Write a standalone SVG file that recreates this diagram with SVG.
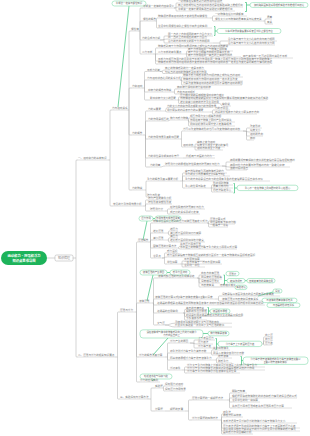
<svg xmlns="http://www.w3.org/2000/svg" width="310" height="436" viewBox="0 0 310 436">
<style>
.nodes text{font-family:"Noto Sans CJK SC","Noto Sans",sans-serif;font-size:2.6px;fill:#777}
.nodes path{stroke:#c6c6c6;stroke-width:.55;fill:none}
.con path{stroke:#ababab;stroke-width:.5;fill:none}
.gl{stroke:#3cc27d;stroke-width:.7;fill:none}
.gb{fill:#fff;stroke:#86dcae;stroke-width:.6}
.bt{font-family:"Noto Sans CJK SC","Noto Sans",sans-serif;font-size:2.4px;fill:#666}
.rt{font-family:"Noto Sans CJK SC","Noto Sans",sans-serif;font-size:3.3px;fill:#fff;font-weight:bold}
</style>
<rect width="310" height="436" fill="#fff"/>
<g class="con">
<path d="M47 258H55"/>
<path d="M73 258H76M76 258V160.8Q76 160 76.8 160H78M76 258V356.2Q76 357 76.8 357H78"/>
<path d="M108 160H110M110 160V110.8Q110 110 110.8 110H112M110 160V205.2Q110 206 110.8 206H113"/>
<path d="M127 110H129M129 110V31.8Q129 31 129.8 31H131M129 110V88.8Q129 88 129.8 88H132M129 110V134.2Q129 135 129.8 135H132M129 110V189.2Q129 190 129.8 190H132"/>
<path d="M138 31H140M140 31V8.8Q140 8 140.8 8H143M140 31V21.8Q140 21 140.8 21H143M140 31V39.2Q140 40 140.8 40H142M140 31V53.2Q140 54 140.8 54H142"/>
<path d="M174 8H176M176 8V3.8Q176 3 176.8 3H178M174 8C176 8 176 7 178 7M176 8V10.2Q176 11 176.8 11H178"/>
<path d="M155 21H156.5M156.5 21V18.8Q156.5 18 157.3 18H158M156.5 21V27.2Q156.5 28 157.3 28H158"/>
<path d="M210 18H212.5M212.5 18V16.8Q212.5 16 213.3 16H215M212.5 18V20.2Q212.5 21 213.3 21H215"/>
<path d="M263 21H265M265 21V19.8Q265 19 265.8 19H267M265 21V23.2Q265 24 265.8 24H267"/>
<path d="M160 40H164M164 40V36.8Q164 36 164.8 36H168M160 40C164 40 164 39 168 39M164 40V42.2Q164 43 164.8 43H168"/>
<path d="M213 43H220M220 43V41.8Q220 41 220.8 41H228M220 43V44.2Q220 45 220.8 45H228"/>
<path d="M153 54H158M155.5 54V48.8Q155.5 48 156.3 48H158M155.5 54V60.2Q155.5 61 156.3 61H158M155.5 54V63.2Q155.5 64 156.3 64H158"/>
<path d="M185 54H188M186.5 54V51.8Q186.5 51 187.3 51H188M186.5 54V56.2Q186.5 57 187.3 57H188"/>
<path d="M240 57C241.5 57 241.5 58 243 58"/>
<path d="M142 88H144.5M144.5 88V72.3Q144.5 71.5 145.3 71.5H147M144.5 88V80.8Q144.5 80 145.3 80H147M144.5 88V91.2Q144.5 92 145.3 92H148M144.5 88V99.2Q144.5 100 145.3 100H150"/>
<path d="M160 71.5C162.5 71.5 162.5 70 165 70M160 71.5H162.5V72.7Q162.5 73.5 163.3 73.5H165"/>
<path d="M180 80H181.5V77.8Q181.5 77 182.3 77H183M180 80C181.5 80 181.5 81 183 81M181.5 80V84.2Q181.5 85 182.3 85H183"/>
<path d="M172 92H174.5V89.8Q174.5 89 175.3 89H177M174.5 92V93.2Q174.5 94 175.3 94H177"/>
<path d="M177 100H180M178.5 100V97.8Q178.5 97 179.3 97H180M178.5 100V102.7Q178.5 103.5 179.3 103.5H180"/>
<path d="M220 103.5C221 103.5 221 106 222 106"/>
<path d="M143 135H145.5M145.5 135V111.8Q145.5 111 146.3 111H148M145.5 135V121.8Q145.5 121 146.3 121H148M145.5 135V138.2Q145.5 139 146.3 139H148M145.5 135V157.2Q145.5 158 146.3 158H148M145.5 135V166.2Q145.5 167 146.3 167H150"/>
<path d="M165 111C166 111 166 107.5 167 107.5M165 111C166 111 166 112 167 112"/>
<path d="M210 112H212.5V110.8Q212.5 110 213.3 110H215M212.5 112V113.2Q212.5 114 213.3 114H215"/>
<path d="M168 121C169 121 169 120 170 120"/>
<path d="M187 120H188.5V118.8Q188.5 118 189.3 118H190M188.5 120V121.2Q188.5 122 189.3 122H190M188.5 120V125.2Q188.5 126 189.3 126H190"/>
<path d="M180 139H181.5V131.8Q181.5 131 182.3 131H183M181.5 139V146.2Q181.5 147 182.3 147H183"/>
<path d="M243 131H246.5V128.8Q246.5 128 247.3 128H250M243 131C246.5 131 246.5 132 250 132M246.5 131V135.2Q246.5 136 247.3 136H250M246.5 131V139.2Q246.5 140 247.3 140H250"/>
<path d="M193 147H197M195 147V144.8Q195 144 195.8 144H197M195 147V149.2Q195 150 195.8 150H197"/>
<path d="M183 158H186"/>
<path d="M160 167C162.5 167 162.5 166 165 166"/>
<path d="M222 166H226V162.8Q226 162 226.8 162H230M222 166C226 166 226 167 230 167M226 166V169.2Q226 170 226.8 170H230"/>
<path d="M145 190H146V181.8Q146 181 146.8 181H147M146 190V196.2Q146 197 146.8 197H147"/>
<path d="M180 181H185M182.5 181V173.8Q182.5 173 183.3 173H185M182.5 181V176.8Q182.5 176 183.3 176H185M182.5 181V187.2Q182.5 188 183.3 188H185"/>
<path d="M210 188H213M211.5 188V185.8Q211.5 185 212.3 185H213M211.5 188V191.2Q211.5 192 212.3 192H213"/>
<path d="M143 206H145.5V200.8Q145.5 200 146.3 200H148M145.5 206V204.8Q145.5 204 146.3 204H148M145.5 206V210.2Q145.5 211 146.3 211H150"/>
<path d="M165 211H167.5V209.8Q167.5 209 168.3 209H170M167.5 211V213.2Q167.5 214 168.3 214H170"/>
<path d="M115 357H117.5V312.8Q117.5 312 118.3 312H120M117.5 357V398.2Q117.5 399 118.3 399H120"/>
<path d="M135 312H136.5V242.8Q136.5 242 137.3 242H138M136.5 312V303.8Q136.5 303 137.3 303H139M136.5 312V356.2Q136.5 357 137.3 357H139M136.5 312V381.2Q136.5 382 137.3 382H140"/>
<path d="M148 242H150.5V223.8Q150.5 223 151.3 223H153M150.5 242V233.8Q150.5 233 151.3 233H153M150.5 242V240.8Q150.5 240 151.3 240H153M150.5 242V247.2Q150.5 248 151.3 248H153M150.5 242V257.2Q150.5 258 151.3 258H153"/>
<path d="M207 223H208.5V221.8Q208.5 221 209.3 221H210M207 223C208.5 223 208.5 224 210 224M208.5 223V226.2Q208.5 227 209.3 227H210"/>
<path d="M167 233H168.5V231.8Q168.5 231 169.3 231H170M168.5 233V234.2Q168.5 235 169.3 235H170"/>
<path d="M167 240H168.5V238.8Q168.5 238 169.3 238H170M168.5 240V241.2Q168.5 242 169.3 242H170"/>
<path d="M178 248C179 248 179 246 180 246M178 248C179 248 179 249 180 249"/>
<path d="M162 258H164.5V253.8Q164.5 253 165.3 253H167M162 258C164.5 258 164.5 257 167 257M164.5 258V263.2Q164.5 264 165.3 264H167"/>
<path d="M180 264H184M182 264V261.8Q182 261 182.8 261H184M182 264V266.2Q182 267 182.8 267H184"/>
<path d="M152 303H153.5V278.8Q153.5 278 154.3 278H158M153.5 303V299.8Q153.5 299 154.3 299H155M153.5 303V304.2Q153.5 305 154.3 305H157M153.5 303V312.2Q153.5 313 154.3 313H157M153.5 303V324.2Q153.5 325 154.3 325H157"/>
<path d="M197 278H199V275.8Q199 275 199.8 275H201M197 278C199 278 199 279 201 279M199 278V282.2Q199 283 199.8 283H201M199 278V286.2Q199 287 199.8 287H201"/>
<path d="M213 287H220"/>
<path d="M215 299H218.5V296.8Q218.5 296 219.3 296H222M218.5 299V300.2Q218.5 301 219.3 301H222"/>
<path d="M183 313H184.5V310.3Q184.5 309.5 185.3 309.5H186M183 313H186M184.5 313V315.7Q184.5 316.5 185.3 316.5H186M184.5 313V319.2Q184.5 320 185.3 320H186"/>
<path d="M165 325C170 325 170 323.2 175 323.2M165 325C170 325 170 327 175 327"/>
<path d="M165 357H167.5V343.8Q167.5 343 168.3 343H170M167.5 357V353.8Q167.5 353 168.3 353H170M167.5 357V359.2Q167.5 360 168.3 360H170M167.5 357V369.2Q167.5 370 168.3 370H170"/>
<path d="M190 343H194V340.8Q194 340 194.8 340H198M190 343C194 343 194 344 198 344M194 343V347.2Q194 348 194.8 348H198"/>
<path d="M262 344H263.5V337.8Q263.5 337 264.3 337H265M263.5 344V341.8Q263.5 341 264.3 341H265M263.5 344V344.2Q263.5 345 264.3 345H265"/>
<path d="M210 353H211.5V350.8Q211.5 350 212.3 350H213M211.5 353V354.2Q211.5 355 212.3 355H213"/>
<path d="M215 360H216.5V358.8Q216.5 358 217.3 358H218M216.5 360V362.2Q216.5 363 217.3 363H218"/>
<path d="M182 370H187M184.5 370V367.8Q184.5 367 185.3 367H187M184.5 370V372.2Q184.5 373 185.3 373H187"/>
<path d="M147 399H151V388.8Q151 388 151.8 388H155M151 399V410.2Q151 411 151.8 411H155"/>
<path d="M162 388H163.5V386.8Q163.5 386 164.3 386H165M163.5 388V390.2Q163.5 391 164.3 391H165"/>
<path d="M165 411H170"/>
<path d="M185 411H188.5V400.8Q188.5 400 189.3 400H192M188.5 411V419.2Q188.5 420 189.3 420H192"/>
<path d="M227 400H229.5V393.8Q229.5 393 230.3 393H232M229.5 400V398.8Q229.5 398 230.3 398H232M229.5 400V401.2Q229.5 402 230.3 402H232M229.5 400V407.2Q229.5 408 230.3 408H232"/>
<path d="M220 420H221.5V414.8Q221.5 414 222.3 414H223M221.5 420V417.8Q221.5 417 222.3 417H223M221.5 420V422.2Q221.5 423 222.3 423H223M221.5 420V427.2Q221.5 428 222.3 428H223M221.5 420V430.2Q221.5 431 222.3 431H223M221.5 420V433.2Q221.5 434 222.3 434H223"/>
</g>
<g id="callouts">
<path class="gl" d="M129 6L118 107"/>
<path class="gl" d="M245 2.5H246.5V11.5H245M246.5 5H250"/>
<path class="gl" d="M214 26.5H215V35.5H214M215 31H217"/>
<path class="gl" d="M233.5 183.5H234.5V193H233.5M234.5 188H237"/>
<path class="gl" d="M153 218.5H155M147 221L143 240"/>
<path class="gl" d="M167 272.5H170M153 275L147 301"/>
<path class="gl" d="M223.5 275H224.5V284H223.5M224.5 280.5H227M245 280.7H247"/>
<path class="gl" d="M258 296L273 292"/>
<path class="gl" d="M207.5 307.5H208.5V314.5H207.5M208.5 311H210"/>
<path class="gl" d="M168 338L153 355M203 333.5H208"/>
<path class="gl" d="M215.5 338.5H216.5V349.5H215.5M216.5 344H218"/>
<path class="gl" d="M240.5 356.5H241.5V365H240.5M241.5 360.5H243"/>
<path class="gl" d="M155 379L152 380.8"/>
<g id="gb1"><rect class="gb" x="112" y="1" width="34" height="5" rx="2.5"/><text class="bt" x="129" y="4.4" text-anchor="middle">牛顿第一定律与惯性知识</text></g>
<g id="gb2"><rect class="gb" x="250" y="2.6" width="58" height="4.8" rx="2.4"/><text class="bt" x="279" y="5.9" text-anchor="middle">伽利略斜面实验采用理想实验方法推理得出结论</text></g>
<g id="gb3"><rect class="gb" x="217" y="28.5" width="64" height="5" rx="2.5"/><text class="bt" x="249" y="31.9" text-anchor="middle">汽车驾驶员和乘客要系好安全带防止惯性伤害</text></g>
<g id="gb4"><rect class="gb" x="237" y="185.2" width="61" height="5.4" rx="2.7"/><text class="bt" x="267.5" y="188.8" text-anchor="middle">重心不一定在物体上例如圆环的重心在圆心</text></g>
<g id="gb5"><rect class="gb" x="139" y="216" width="14" height="5" rx="2.5"/><text class="bt" x="146" y="219.4" text-anchor="middle">压力作用</text></g>
<g id="gb6"><rect class="gb" x="155" y="216" width="26" height="5" rx="2.5"/><text class="bt" x="168" y="219.4" text-anchor="middle">作用效果与哪些因素有</text></g>
<g id="gb7"><rect class="gb" x="140" y="270" width="27" height="5" rx="2.5"/><text class="bt" x="153.5" y="273.4" text-anchor="middle">液体压强的产生原因</text></g>
<g id="gb8"><rect class="gb" x="170" y="270" width="20" height="5" rx="2.5"/><text class="bt" x="180" y="273.4" text-anchor="middle">受重力且流动</text></g>
<g id="gb9"><rect class="gb" x="226" y="271.4" width="13" height="4.4" rx="2.2"/><text class="bt" x="232.5" y="274.5" text-anchor="middle">压强计</text></g>
<g id="gb10"><rect class="gb" x="227" y="278.5" width="18" height="4.4" rx="2.2"/><text class="bt" x="236" y="281.6" text-anchor="middle">转换法观察</text></g>
<g id="gb11"><rect class="gb" x="247" y="278.5" width="28" height="4.4" rx="2.2"/><text class="bt" x="261" y="281.6" text-anchor="middle">控制变量法的具体应用</text></g>
<g id="gb12"><rect class="gb" x="235" y="285.2" width="12" height="4.4" rx="2.2"/><text class="bt" x="241" y="288.3" text-anchor="middle">实验结论</text></g>
<g id="gb13"><rect class="gb" x="262" y="298.2" width="35" height="4.4" rx="2.2"/><text class="bt" x="279.5" y="301.3" text-anchor="middle">与液体的质量和体积无关</text></g>
<g id="gb14"><rect class="gb" x="267" y="303" width="33" height="4.4" rx="2.2"/><text class="bt" x="283.5" y="306.1" text-anchor="middle">与容器的形状无关系</text></g>
<g id="gb15"><rect class="gb" x="273" y="289" width="9" height="4" rx="2"/><text class="bt" x="277.5" y="291.9" text-anchor="middle">深度</text></g>
<g id="gb16"><rect class="gb" x="210" y="309" width="20" height="4.4" rx="2.2"/><text class="bt" x="220" y="312.1" text-anchor="middle">液面相平原理</text></g>
<g id="gb17"><rect class="gb" x="140" y="329.8" width="63" height="8.2" rx="3"/><text class="bt" x="171.5" y="333.2" text-anchor="middle">浸在液体或气体中的物体受到向上托的力叫做浮</text><text class="bt" x="171.5" y="336.4" text-anchor="middle">力方向竖直向上</text></g>
<g id="gb18"><rect class="gb" x="208" y="331.2" width="21" height="4.6" rx="2.3"/><text class="bt" x="218.5" y="334.4" text-anchor="middle">施力物体是液体</text></g>
<g id="gb19"><rect class="gb" x="218" y="341.2" width="44" height="5.4" rx="2.7"/><text class="bt" x="240" y="344.8" text-anchor="middle">浮力等于上下表面的压力差</text></g>
<g id="gb20"><rect class="gb" x="243" y="357" width="65" height="7.4" rx="3"/><text class="bt" x="275.5" y="360.2" text-anchor="middle">浮力等于排开液体所受的重力等于液体密度乘以</text><text class="bt" x="275.5" y="363.3" text-anchor="middle">g乘以排开液体的体积</text></g>
<g id="gb21"><rect class="gb" x="140" y="374" width="32" height="5" rx="2.5"/><text class="bt" x="156" y="377.4" text-anchor="middle">轮船潜水艇气球和飞艇</text></g>
</g>
<g id="root"><rect x="1" y="251" width="46" height="14" rx="7" fill="#1db35a"/><text class="rt" x="24" y="257.3" text-anchor="middle">运动和力·压强和浮力</text><text class="rt" x="24" y="261.9" text-anchor="middle">知识点思维导图</text></g>
<g id="n0"><rect x="55" y="255" width="18" height="6" rx="1.5" fill="#fff" stroke="#a8a8a8" stroke-width=".5"/><text x="64" y="259.1" text-anchor="middle" style="font-family:'Noto Sans CJK SC',sans-serif;font-size:3px;fill:#777">知识梳理</text></g>
<g class="nodes">
<g id="T1"><text x="78" y="159.4">一、运动和力的基本知识</text><path d="M78 160H108"/></g>
<g id="T2"><text x="78" y="356.4">二、压强与浮力的相关知识要点</text><path d="M78 357H115"/></g>
<g id="U1"><text x="112" y="109.4">力与运动关系</text><path d="M112 110H127"/></g>
<g id="U2"><text x="113" y="205.4">常见的力及作用效果分析</text><path d="M113 206H143"/></g>
<g id="C"><text x="131" y="30.4">惯性律</text><path d="M131 31H138"/></g>
<g id="A"><text x="143" y="7.4">牛顿第一定律的内容和意义</text><path d="M143 8H174"/></g>
<g id="A1"><text x="178" y="2.4">一切物体在没有受到力的作用时总保持</text><path d="M178 3H223"/></g>
<g id="A2"><text x="178" y="6.4">静止状态或匀速直线运动状态这是在实验基础上推理得出</text><path d="M178 7H243"/></g>
<g id="A3"><text x="178" y="10.4">牛顿第一定律不能用实验直接验证只能推理得出</text><path d="M178 11H235"/></g>
<g id="B"><text x="143" y="20.4">惯性的概念</text><path d="M143 21H155"/></g>
<g id="B1"><text x="158" y="17.4">物体保持原来运动状态不变的性质叫做惯性</text><path d="M158 18H210"/></g>
<g id="B1a"><text x="215" y="15.4">一切物体在任何时候都有</text><path d="M215 16H247"/></g>
<g id="B1b"><text x="215" y="20.4">惯性大小只与物体的质量有关与速度无关</text><path d="M215 21H263"/></g>
<g id="B1b1"><text x="267" y="18.4">质量</text><path d="M267 19H272"/></g>
<g id="B1b2"><text x="267" y="23.4">有关</text><path d="M267 24H273"/></g>
<g id="B2"><text x="158" y="27.4">生活中利用惯性和防止惯性带来危害的实例</text><path d="M158 28H212"/></g>
<g id="D"><text x="142" y="39.4">力的合成与分解</text><path d="M142 40H160"/></g>
<g id="D1"><text x="168" y="35.4">同一直线上方向相同的两个力合力大小</text><path d="M168 36H213"/></g>
<g id="D2"><text x="168" y="38.4">同一直线上方向相反的两个力合力</text><path d="M168 39H207"/></g>
<g id="D3"><text x="168" y="42.4">合力的方向与较大的那个力方向相同</text><path d="M168 43H213"/></g>
<g id="D3a"><text x="228" y="40.4">合力等于两个力大小之和方向与两力相同</text><path d="M228 41H277"/></g>
<g id="D3b"><text x="228" y="44.4">合力等于两个力大小之差方向与较大力同</text><path d="M228 45H275"/></g>
<g id="E"><text x="142" y="53.4">二力平衡</text><path d="M142 54H153"/></g>
<g id="E1"><text x="158" y="47.4">物体受到两个力作用时如果保持静止或匀速直线运动状态就说</text><path d="M158 48H223"/></g>
<g id="E2"><text x="158" y="53.4">二力平衡的条件要点</text><path d="M158 54H185"/></g>
<g id="E2a"><text x="188" y="50.4">两个力作用在同一个物体上即同体</text><path d="M188 51H233"/></g>
<g id="E2b"><text x="188" y="53.4">两个力大小相等方向相反即等大反向</text><path d="M188 54H232"/></g>
<g id="E2c"><text x="188" y="56.4">两个力作用在同一条直线上简称为共线</text><path d="M188 57H240"/></g>
<g id="E2c1"><text x="243" y="57.4">四个条件缺一不可必须同时满足才平衡</text><path d="M243 58H293"/></g>
<g id="E3"><text x="158" y="60.4">平衡力与相互作用力的区别在于平衡力作用在同一物体上而相互作用力分别作用在两个不同的物体上</text><path d="M158 61H267"/></g>
<g id="E4"><text x="158" y="63.4">物体受平衡力作用时运动状态不变受非平衡力作用时运动状态一定发生改变这是判断受力情况的依据</text><path d="M158 64H270"/></g>
<g id="F"><text x="132" y="87.4">力和运动</text><path d="M132 88H142"/></g>
<g id="G"><text x="147" y="70.9">平衡力判断</text><path d="M147 71.5H160"/></g>
<g id="G1"><text x="165" y="69.4">静止的物体受到的力一定是平衡力</text><path d="M165 70H205"/></g>
<g id="G2"><text x="165" y="72.9">匀速直线运动的物体受到平衡力作用</text><path d="M165 73.5H208"/></g>
<g id="H"><text x="147" y="79.4">力与运动状态之间的关系分析</text><path d="M147 80H180"/></g>
<g id="H1"><text x="183" y="76.4">物体不受力或受平衡力时保持静止或匀速直线运动</text><path d="M183 77H243"/></g>
<g id="H2"><text x="183" y="80.4">物体受非平衡力作用时运动状态一定会发生改变</text><path d="M183 81H243"/></g>
<g id="H3"><text x="183" y="84.4">力是改变物体运动状态的原因而不是维持运动的原因</text><path d="M183 85H242"/></g>
<g id="I"><text x="148" y="91.4">摩擦力的概念与种类</text><path d="M148 92H172"/></g>
<g id="I1"><text x="177" y="88.4">静摩擦力滑动摩擦力滚动摩擦</text><path d="M177 89H210"/></g>
<g id="I2"><text x="177" y="93.4">方向与运动相反</text><path d="M177 94H193"/></g>
<g id="J"><text x="150" y="99.4">影响摩擦力大小的因素</text><path d="M150 100H177"/></g>
<g id="J1"><text x="180" y="96.4">压力越大接触面越粗糙滑动摩擦力越大</text><path d="M180 97H223"/></g>
<g id="J2"><text x="180" y="99.4">与物体运动速度接触面积大小无关探究时要采用控制变量法和转换法进行实验</text><path d="M180 100H267"/></g>
<g id="J3"><text x="180" y="102.9">增大和减小摩擦的方法及生活应用</text><path d="M180 103.5H220"/></g>
<g id="J3a"><text x="222" y="105.4">举例说</text><path d="M222 106H231"/></g>
<g id="P"><text x="132" y="134.4">力的概念</text><path d="M132 135H143"/></g>
<g id="P1"><text x="148" y="110.4">力的三要素</text><path d="M148 111H165"/></g>
<g id="P1a"><text x="167" y="106.9">力的大小方向和作用点都影响力的作用效果</text><path d="M167 107.5H213"/></g>
<g id="P1b"><text x="167" y="111.4">用带箭头的线段表示力的三要素</text><path d="M167 112H210"/></g>
<g id="P1b1"><text x="215" y="109.4">力的示意图</text><path d="M215 110H230"/></g>
<g id="P1b2"><text x="215" y="113.4">线段的长短表示力的大小箭头表示方向</text><path d="M215 114H257"/></g>
<g id="P2"><text x="148" y="120.4">力的作用是相互的</text><path d="M148 121H168"/></g>
<g id="P2a"><text x="170" y="119.4">施力与受力物体</text><path d="M170 120H187"/></g>
<g id="P2a1"><text x="190" y="117.4">相互作用力大小相等方向相</text><path d="M190 118H220"/></g>
<g id="P2a2"><text x="190" y="121.4">作用在两个物体上同时产生同时消失</text><path d="M190 122H235"/></g>
<g id="P2a3"><text x="190" y="125.4">例如划船游泳火箭升空人走路等现象</text><path d="M190 126H235"/></g>
<g id="P3"><text x="148" y="138.4">力的作用效果及其影响因素</text><path d="M148 139H180"/></g>
<g id="P3a"><text x="183" y="130.4">力可以改变物体的形状也可以改变物体的运动状态</text><path d="M183 131H243"/></g>
<g id="P3a1"><text x="250" y="127.4">改变形状</text><path d="M250 128H262"/></g>
<g id="P3a2"><text x="250" y="131.4">速度大小</text><path d="M250 132H260"/></g>
<g id="P3a3"><text x="250" y="135.4">运动的方向</text><path d="M250 136H263"/></g>
<g id="P3a4"><text x="250" y="139.4">静动</text><path d="M250 140H254"/></g>
<g id="P3b"><text x="183" y="146.4">运动状态</text><path d="M183 147H193"/></g>
<g id="P3b1"><text x="197" y="143.4">由静止变为运动</text><path d="M197 144H218"/></g>
<g id="P3b2"><text x="197" y="146.4">速度大小发生了变化的情况</text><path d="M197 147H225"/></g>
<g id="P3b3"><text x="197" y="149.4">运动方向发生了改变</text><path d="M197 150H223"/></g>
<g id="P4"><text x="148" y="157.4">力的单位是牛顿简称牛符号</text><path d="M148 158H183"/></g>
<g id="P4a"><text x="186" y="157.4">托起两个鸡蛋的力约为一</text><path d="M186 158H215"/></g>
<g id="P5"><text x="150" y="166.4">力的测量</text><path d="M150 167H160"/></g>
<g id="P5a"><text x="165" y="165.4">弹簧测力计的原理在弹性限度内弹簧伸长与拉力</text><path d="M165 166H222"/></g>
<g id="P5a1"><text x="230" y="161.4">使用前要观察量程和分度值并检查指针是否指在零刻度线</text><path d="M230 162H292"/></g>
<g id="P5a2"><text x="230" y="166.4">使用时拉力方向要与弹簧轴线方向一致避免摩擦</text><path d="M230 167H290"/></g>
<g id="P5a3"><text x="230" y="169.4">读数时视线垂直</text><path d="M230 170H247"/></g>
<g id="R"><text x="132" y="189.4">力的种类</text><path d="M132 190H145"/></g>
<g id="S1"><text x="147" y="180.4">重力的概念及其三要素分析</text><path d="M147 181H180"/></g>
<g id="S1a"><text x="185" y="172.4">由于地球的吸引而使物体受到的力</text><path d="M185 173H227"/></g>
<g id="S1b"><text x="185" y="175.4">重力的大小与质量成正比G等于mg</text><path d="M185 176H230"/></g>
<g id="S1c"><text x="185" y="180.4">重力的方向总是竖直向下的应用有重垂线检查墙壁是否竖直和水平仪</text><path d="M185 181H270"/></g>
<g id="S1d"><text x="185" y="187.4">重心的位置与确定</text><path d="M185 188H210"/></g>
<g id="S1d1"><text x="213" y="184.4">形状规则物体</text><path d="M213 185H233"/></g>
<g id="S1d2"><text x="213" y="187.4">质量分布均匀</text><path d="M213 188H233"/></g>
<g id="S1d3"><text x="213" y="191.4">悬挂法确定重心</text><path d="M213 192H233"/></g>
<g id="S2"><text x="147" y="196.4">弹力与形变</text><path d="M147 197H163"/></g>
<g id="V1"><text x="148" y="199.4">弹力产生的条件分析</text><path d="M148 200H172"/></g>
<g id="V2"><text x="148" y="203.4">弹性形变和塑性形变</text><path d="M148 204H172"/></g>
<g id="V3"><text x="150" y="210.4">弹簧测力计</text><path d="M150 211H165"/></g>
<g id="V3a"><text x="170" y="208.4">在弹性限度内弹簧伸长与拉力</text><path d="M170 209H205"/></g>
<g id="V3b"><text x="170" y="213.4">成正比的关系即胡克定律</text><path d="M170 214H200"/></g>
<g id="W"><text x="120" y="311.4">压强与浮力</text><path d="M120 312H135"/></g>
<g id="L1"><text x="138" y="241.4">压强概念</text><path d="M138 242H148"/></g>
<g id="L1a"><text x="153" y="222.4">物体单位面积上受到的压力叫做压强其定义式为</text><path d="M153 223H207"/></g>
<g id="L1a1"><text x="210" y="220.4">压强计算公式</text><path d="M210 221H225"/></g>
<g id="L1a2"><text x="210" y="223.4">单位是帕斯卡简称为帕</text><path d="M210 224H235"/></g>
<g id="L1a3"><text x="210" y="226.4">一帕等于一牛每</text><path d="M210 227H228"/></g>
<g id="L1b"><text x="153" y="232.4">增大压强</text><path d="M153 233H167"/></g>
<g id="L1b1"><text x="170" y="230.4">增压力</text><path d="M170 231H178"/></g>
<g id="L1b2"><text x="170" y="234.4">减小受力面积例如刀刃磨薄</text><path d="M170 235H200"/></g>
<g id="L1c"><text x="153" y="239.4">减小压强</text><path d="M153 240H167"/></g>
<g id="L1c1"><text x="170" y="237.4">减压力</text><path d="M170 238H178"/></g>
<g id="L1c2"><text x="170" y="241.4">增大受力面积例如书包带做宽</text><path d="M170 242H205"/></g>
<g id="L1d"><text x="153" y="247.4">固体压强的计算方法</text><path d="M153 248H178"/></g>
<g id="L1d1"><text x="180" y="245.4">先求压力再求压强</text><path d="M180 246H205"/></g>
<g id="L1d2"><text x="180" y="248.4">水平面上的物体压力等于重力的大小再用公式计算</text><path d="M180 249H237"/></g>
<g id="L1e"><text x="153" y="257.4">注意点</text><path d="M153 258H162"/></g>
<g id="L1e1"><text x="167" y="252.4">受力面积</text><path d="M167 253H178"/></g>
<g id="L1e2"><text x="167" y="256.4">受力面积是指两个物体相互接触的部分面积不一定等于物体的底面积或表面积</text><path d="M167 257H250"/></g>
<g id="L1e3"><text x="167" y="263.4">单位换算</text><path d="M167 264H180"/></g>
<g id="L1e31"><text x="184" y="260.4">平方厘米换算</text><path d="M184 261H205"/></g>
<g id="L1e32"><text x="184" y="263.4">一平方米等于一万平方厘米换算</text><path d="M184 264H222"/></g>
<g id="L1e33"><text x="184" y="266.4">注意统一单位</text><path d="M184 267H205"/></g>
<g id="L2"><text x="139" y="302.4">液体压强</text><path d="M139 303H152"/></g>
<g id="L2a"><text x="158" y="277.4">液体内部压强的特点及规律总结</text><path d="M158 278H197"/></g>
<g id="L2a1"><text x="201" y="274.4">向各方向有压强</text><path d="M201 275H220"/></g>
<g id="L2a2"><text x="201" y="278.4">同深度处压强相等</text><path d="M201 279H222"/></g>
<g id="L2a3"><text x="201" y="282.4">深度越深压强大</text><path d="M201 283H220"/></g>
<g id="L2a4"><text x="201" y="286.4">与密度有关</text><path d="M201 287H213"/></g>
<g id="L2a4a"><text x="220" y="286.4">密度越大越大</text><path d="M220 287H235"/></g>
<g id="L2b"><text x="155" y="298.4">液体压强的计算公式p等于液体密度乘以g乘以深度</text><path d="M155 299H215"/></g>
<g id="L2b1"><text x="222" y="295.4">深度是指从液面到该点的竖直距离而不是高度</text><path d="M222 296H280"/></g>
<g id="L2b2"><text x="222" y="300.4">液体压强只与密度和深度有关系</text><path d="M222 301H262"/></g>
<g id="L2bb"><text x="157" y="304.4">连通器的原理是连通器里装同种液体且液体不流动时各容器中的液面总保持相平例如茶壶船闸</text><path d="M157 305H265"/></g>
<g id="L2c"><text x="157" y="312.4">连通器的应用举例</text><path d="M157 313H183"/></g>
<g id="L2c1"><text x="186" y="308.9">茶壶的壶嘴壶身</text><path d="M186 309.5H207"/></g>
<g id="L2c2"><text x="186" y="312.4">锅炉的水位计原理</text><path d="M186 313H207"/></g>
<g id="L2c3"><text x="186" y="315.9">船闸是利用连通器原理工作的大型连通器工程应用</text><path d="M186 316.5H242"/></g>
<g id="L2c4"><text x="186" y="319.4">下水道存水弯</text><path d="M186 320H207"/></g>
<g id="L2d"><text x="157" y="324.4">大气压</text><path d="M157 325H165"/></g>
<g id="L2d1"><text x="175" y="322.6">马德堡半球实验证明了大气压强的存在</text><path d="M175 323.2H232"/></g>
<g id="L2d2"><text x="175" y="326.4">托里拆利实验第一次测出了大气压强的数值</text><path d="M175 327H232"/></g>
<g id="L3"><text x="139" y="356.4">浮力的概念及其计算</text><path d="M139 357H165"/></g>
<g id="L3a"><text x="170" y="342.4">浮力产生的原因</text><path d="M170 343H190"/></g>
<g id="L3a1"><text x="198" y="339.4">上下表面压力</text><path d="M198 340H215"/></g>
<g id="L3a2"><text x="198" y="343.4">压力差法</text><path d="M198 344H213"/></g>
<g id="L3a3"><text x="198" y="347.4">浮力等于差</text><path d="M198 348H215"/></g>
<g id="L3s1"><text x="265" y="336.4">向上压</text><path d="M265 337H272"/></g>
<g id="L3s2"><text x="265" y="340.4">向下压</text><path d="M265 341H272"/></g>
<g id="L3s3"><text x="265" y="344.4">压力差</text><path d="M265 345H272"/></g>
<g id="L3b"><text x="170" y="352.4">称重法测浮力等于重力减去示数</text><path d="M170 353H210"/></g>
<g id="L3b1"><text x="213" y="349.4">先测出物体重</text><path d="M213 350H230"/></g>
<g id="L3b2"><text x="213" y="354.4">再浸入液体中读测力计示数</text><path d="M213 355H243"/></g>
<g id="L3c"><text x="170" y="359.4">阿基米德原理浮力等于排开液体重力</text><path d="M170 360H215"/></g>
<g id="L3c1"><text x="218" y="357.4">排开液体</text><path d="M218 358H232"/></g>
<g id="L3c2"><text x="218" y="362.4">所受重力</text><path d="M218 363H232"/></g>
<g id="L3d"><text x="170" y="369.4">浮沉条件</text><path d="M170 370H182"/></g>
<g id="L3d1"><text x="187" y="366.4">浮力大于重力时物体上浮最终漂浮在液面上此时浮力等于重力</text><path d="M187 367H265"/></g>
<g id="L3d2"><text x="187" y="369.4">浮力小于重力时物体下沉最终沉到容器底部受到支持力作用</text><path d="M187 370H265"/></g>
<g id="L3d3"><text x="187" y="372.4">浮力等于重力时物体悬浮在液体中任意位置</text><path d="M187 373H240"/></g>
<g id="L4"><text x="140" y="381.4">浮力的应用实例</text><path d="M140 382H160"/></g>
<g id="X"><text x="120" y="398.4">三、实验探究与计算方法</text><path d="M120 399H147"/></g>
<g id="X1"><text x="155" y="387.4">实验题</text><path d="M155 388H162"/></g>
<g id="X1a"><text x="165" y="385.4">探究阻力对运动</text><path d="M165 386H183"/></g>
<g id="X1b"><text x="165" y="390.4">探究压力作用效果</text><path d="M165 391H185"/></g>
<g id="X2"><text x="155" y="410.4">计算题</text><path d="M155 411H165"/></g>
<g id="X2a"><text x="170" y="410.4">解题的步骤</text><path d="M170 411H185"/></g>
<g id="X2a1"><text x="192" y="399.4">压强计算题的一般解题方法</text><path d="M192 400H227"/></g>
<g id="X2a1a"><text x="232" y="392.4">明确已知量</text><path d="M232 393H247"/></g>
<g id="X2a1b"><text x="232" y="397.4">根据题意确定物体所处的状态和受力情况选择合适的公式</text><path d="M232 398H297"/></g>
<g id="X2a1c"><text x="232" y="401.4">注意单位的统一和换算</text><path d="M232 402H260"/></g>
<g id="X2a1d"><text x="232" y="407.4">先求压力再求压强或者先求压强再求压力计算</text><path d="M232 408H292"/></g>
<g id="X2a2"><text x="192" y="419.4">浮力计算题的四种方法</text><path d="M192 420H220"/></g>
<g id="X2a2a"><text x="223" y="413.4">称重法</text><path d="M223 414H232"/></g>
<g id="X2a2b"><text x="223" y="416.4">原理法阿基米德</text><path d="M223 417H243"/></g>
<g id="X2a2c"><text x="223" y="422.4">平衡法适用于漂浮和悬浮的物体浮力等于物体重力大小</text><path d="M223 423H297"/></g>
<g id="X2a2d"><text x="223" y="427.4">压力差法适用于形状规则的物体浮力等于上下表面所受压力之差</text><path d="M223 428H300"/></g>
<g id="X2a2e"><text x="223" y="430.4">综合运用多种方法解决复杂的浮力问题注意分析物体的受力情况</text><path d="M223 431H300"/></g>
<g id="X2a2f"><text x="223" y="433.4">画出受力示意图辅助分析</text><path d="M223 434H253"/></g>
</g>
</svg>
